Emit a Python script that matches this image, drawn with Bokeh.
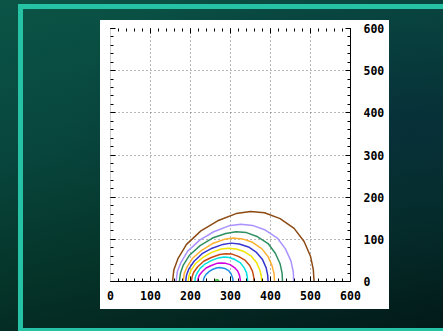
from bokeh.plotting import figure
from bokeh.models import Range1d, LinearAxis, SingleIntervalTicker
from bokeh.embed import file_html
from bokeh.resources import INLINE

# ---- data ----
tick_values = [0, 100, 200, 300, 400, 500, 600]

brown_x = [155, 158.5, 169, 190, 226, 268, 314, 350, 385, 424, 459, 484, 500, 507, 509]
brown_y = [0, 28, 55, 88, 120, 144, 161, 166, 163, 149, 126, 95, 60, 28, 0]

lavender_x = [164, 167, 176, 193, 223, 258, 296, 326, 355, 387, 417, 437, 451, 457, 458]
lavender_y = [0, 23, 45, 72, 98, 118, 132, 136, 133, 122, 103, 78, 49, 23, 0]

green_x = [172, 175, 182, 198, 224, 255, 288, 314, 340, 368, 394, 412, 424, 429, 430]
green_y = [0, 20, 39, 63, 85, 103, 114, 118, 116, 106, 90, 67, 42, 20, 0]

orange_x = [182, 184, 191, 205, 228, 255, 285, 307, 330, 355, 378, 394, 404, 409, 410]
orange_y = [0, 18, 34, 55, 74, 90, 100, 103, 101, 93, 78, 59, 37, 18, 0]

blue_x = [188, 190, 196, 209, 229, 254, 281, 301, 322, 345, 365, 380, 389, 393, 394]
blue_y = [0, 15, 30, 48, 66, 79, 88, 91, 89, 82, 69, 52, 33, 15, 0]

yellow_x = [194, 196, 201, 212, 231, 253, 277, 295, 314, 334, 352, 365, 373, 377, 378]
yellow_y = [0, 13, 26, 42, 57, 69, 77, 79, 77, 71, 60, 45, 28, 13, 0]

red_x = [202, 204, 208, 218, 233, 252, 273, 288, 304, 321, 337, 348, 355, 358, 359]
red_y = [0, 11, 22, 35, 48, 57, 64, 66, 65, 59, 50, 38, 24, 11, 0]

cyan_x = [211, 212, 216, 224, 237, 253, 270, 284, 297, 311, 325, 334, 340, 342, 343]
cyan_y = [0, 10, 19, 31, 42, 50, 56, 58, 57, 52, 44, 33, 21, 10, 0]

magenta_x = [218, 219, 222, 229, 239, 252, 266, 277, 288, 299, 310, 318, 322, 324, 325]
magenta_y = [0, 7, 15, 23, 32, 38, 43, 44, 43, 40, 33, 25, 16, 7, 0]

dodger_x = [232, 233, 235, 239, 247, 256, 265, 273, 280, 288, 296, 301, 304, 306, 306]
dodger_y = [0, 6, 11, 17, 24, 29, 32, 33, 32, 30, 25, 19, 12, 6, 0]

small_x = [260, 262, 266, 270, 271]
small_y = [0, 3, 4, 3, 0]

series = [
    (brown_x, brown_y, "#8c4a14"),
    (lavender_x, lavender_y, "#a992ff"),
    (green_x, green_y, "#2e9062"),
    (orange_x, orange_y, "#ffb030"),
    (blue_x, blue_y, "#3535d0"),
    (yellow_x, yellow_y, "#f0e400"),
    (red_x, red_y, "#c84b12"),
    (cyan_x, cyan_y, "#00e0e0"),
    (magenta_x, magenta_y, "#d000e0"),
    (dodger_x, dodger_y, "#1e8ee8"),
    (small_x, small_y, "#33bb33"),
]

teal = "#25c2a5"
bg = ", ".join([
    f"linear-gradient({teal},{teal}) 18px 4px / 5px 340px no-repeat",
    f"linear-gradient({teal},{teal}) 18px 4px / 440px 5px no-repeat",
    f"linear-gradient({teal},{teal}) 18px 328px / 440px 5px no-repeat",
    "linear-gradient(#ffffff,#ffffff) 100px 20px / 289px 289px no-repeat",
    "radial-gradient(ellipse at 92% 40%, rgba(8,40,62,0.6) 0%, rgba(8,40,62,0) 60%)",
    "linear-gradient(165deg, #0b5446 0%, #08463d 35%, #053328 65%, #02191a 100%)",
])

p = figure(width=443, height=331, output_backend="svg", toolbar_location=None,
           x_range=Range1d(0, 600), y_range=Range1d(0, 600),
           x_axis_location="below", y_axis_location="right",
           min_border_left=110, min_border_right=93,
           min_border_top=28, min_border_bottom=50,
           styles={"background": bg})
p.border_fill_alpha = 0
p.background_fill_color = "white"
p.outline_line_color = None

ticker = SingleIntervalTicker(interval=100, num_minor_ticks=5)

left_ax = LinearAxis()
top_ax = LinearAxis()
p.add_layout(left_ax, "left")
p.add_layout(top_ax, "above")

for ax in [p.below[0], p.right[0], left_ax, top_ax]:
    ax.ticker = ticker
    ax.major_tick_in = 5
    ax.major_tick_out = 0
    ax.minor_tick_in = 3
    ax.minor_tick_out = 0
    ax.major_tick_line_color = "black"
    ax.minor_tick_line_color = "black"
    ax.axis_line_color = "black"
    ax.major_label_text_font = "DejaVu Sans Mono"
    ax.major_label_text_font_style = "bold"
    ax.major_label_text_font_size = "11.5px"
    ax.major_label_text_color = "black"

for ax in [left_ax, top_ax]:
    ax.major_label_overrides = {v: "" for v in tick_values}
left_ax.axis_line_color = "#cfcfcf"
top_ax.axis_line_color = None

p.below[0].major_label_standoff = 9
p.right[0].major_label_standoff = 13

for g in p.grid:
    g.ticker = ticker
    g.grid_line_color = "#6f6f6f"
    g.grid_line_dash = "1 3"
    g.grid_line_width = 1

for xs, ys, c in series:
    p.line(xs, ys, line_color=c, line_width=1.5)

open("out.html", "w").write(file_html(p, INLINE))
